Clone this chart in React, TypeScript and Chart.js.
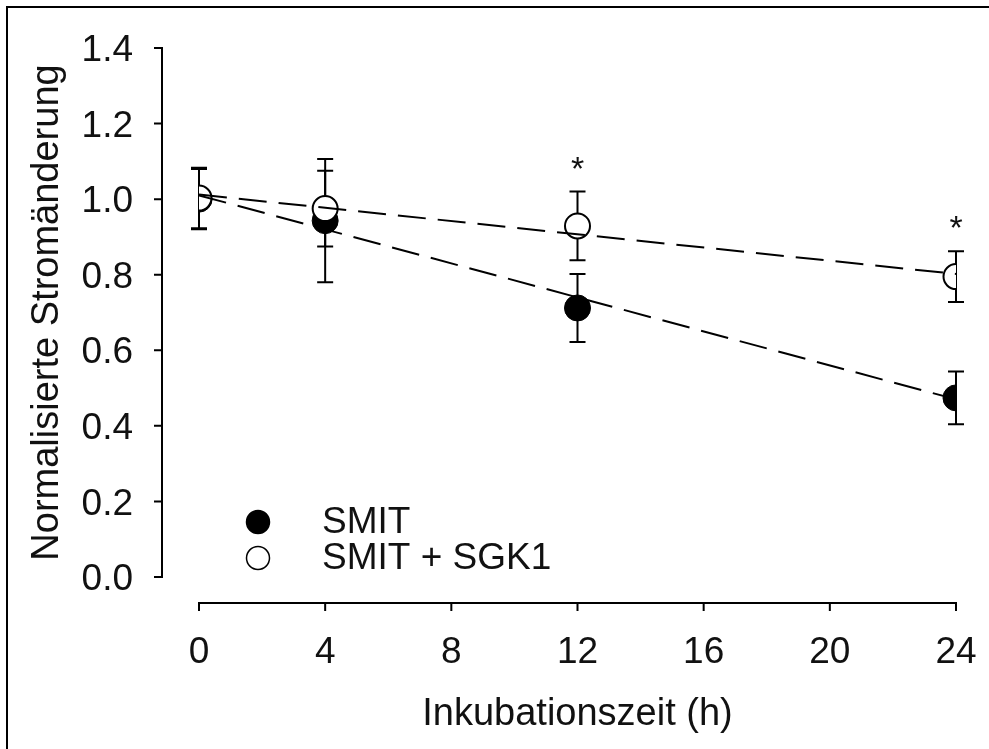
import React, { useEffect, useRef } from "react";
import { Chart, registerables } from "chart.js";

Chart.register(...registerables);

// ---- data ----
const hours = [0, 4, 12, 24];
const smitMean = [1.0, 0.943, 0.712, 0.474];
const smitErr = [0.08, 0.163, 0.09, 0.07];
const sgkMean = [1.003, 0.975, 0.929, 0.795];
const sgkErr = [0.08, 0.1, 0.091, 0.067];
const fitHours = [0, 24];
const smitFit = [1.01, 0.47];
const sgkFit = [1.012, 0.802];
const sigHours = [12, 24];
const seriesLabels = ["SMIT", "SMIT + SGK1"];
const xRange = [0, 24];
const xStep = 4;
const yRange = [0, 1.4];
const yStep = 0.2;
const xTitle = "Inkubationszeit (h)";
const yTitle = "Normalisierte Stromänderung";

const FONT = "'Liberation Sans', Arial, Helvetica, sans-serif";
const TEXT = "#111";

const framePlugin = {
  id: "frame",
  beforeDraw(chart: any) {
    const { ctx, width, height } = chart;
    ctx.save();
    ctx.fillStyle = "#fff";
    ctx.fillRect(0, 0, width, height);
    ctx.strokeStyle = "#000";
    ctx.lineWidth = 2;
    ctx.beginPath();
    ctx.moveTo(7, height);
    ctx.lineTo(7, 7);
    ctx.lineTo(width, 7);
    ctx.stroke();
    ctx.restore();
  },
};

const errorBarPlugin = {
  id: "errorBars",
  beforeDatasetsDraw(chart: any) {
    const { ctx } = chart;
    const x = chart.scales.x;
    const y = chart.scales.y;
    ctx.save();
    ctx.strokeStyle = "#000";
    ctx.lineWidth = 2;
    chart.data.datasets.forEach((ds: any) => {
      if (!ds.errors) return;
      ds.data.forEach((p: any, i: number) => {
        const px = x.getPixelForValue(p.x);
        const yt = y.getPixelForValue(p.y + ds.errors[i]);
        const yb = y.getPixelForValue(p.y - ds.errors[i]);
        ctx.beginPath();
        ctx.moveTo(px, yt);
        ctx.lineTo(px, yb);
        ctx.moveTo(px - 8, yt);
        ctx.lineTo(px + 8, yt);
        ctx.moveTo(px - 8, yb);
        ctx.lineTo(px + 8, yb);
        ctx.stroke();
      });
    });
    ctx.restore();
  },
};

const asteriskPlugin = {
  id: "asterisks",
  afterDatasetsDraw(chart: any) {
    const { ctx } = chart;
    const x = chart.scales.x;
    const y = chart.scales.y;
    ctx.save();
    ctx.fillStyle = TEXT;
    ctx.font = `34px ${FONT}`;
    ctx.textAlign = "center";
    ctx.textBaseline = "alphabetic";
    const m = ctx.measureText("*");
    sigHours.forEach((h) => {
      const i = hours.indexOf(h);
      const top = Math.max(smitMean[i] + smitErr[i], sgkMean[i] + sgkErr[i]);
      const cy = y.getPixelForValue(top) - 29;
      const by = cy + (m.actualBoundingBoxAscent - m.actualBoundingBoxDescent) / 2;
      ctx.fillText("*", x.getPixelForValue(h), by);
    });
    ctx.restore();
  },
};

const axesPlugin = {
  id: "offsetAxes",
  afterDraw(chart: any) {
    const { ctx, chartArea } = chart;
    const x = chart.scales.x;
    const y = chart.scales.y;
    ctx.save();
    ctx.strokeStyle = "#000";
    ctx.lineWidth = 2;
    ctx.beginPath();
    const ax = chartArea.left - 37;
    ctx.moveTo(ax, y.getPixelForValue(y.max) - 1);
    ctx.lineTo(ax, y.getPixelForValue(y.min) + 1);
    y.ticks.forEach((t: any) => {
      const py = y.getPixelForValue(t.value);
      ctx.moveTo(ax, py);
      ctx.lineTo(ax - 8, py);
    });
    const ay = chartArea.bottom + 26;
    ctx.moveTo(x.getPixelForValue(x.min) - 1, ay);
    ctx.lineTo(x.getPixelForValue(x.max) + 1, ay);
    x.ticks.forEach((t: any) => {
      const px = x.getPixelForValue(t.value);
      ctx.moveTo(px, ay);
      ctx.lineTo(px, ay + 8);
    });
    ctx.stroke();
    ctx.restore();
  },
};

const legendPlugin = {
  id: "insideLegend",
  afterDraw(chart: any) {
    const { ctx, chartArea } = chart;
    const mx = chartArea.left + 59;
    const tx = chartArea.left + 123;
    const y0 = chartArea.bottom - 55;
    ctx.save();
    ctx.font = `37px ${FONT}`;
    ctx.fillStyle = TEXT;
    ctx.textAlign = "left";
    ctx.textBaseline = "middle";
    seriesLabels.forEach((label, i) => {
      const ds = chart.data.datasets[i];
      const cy = y0 + i * 36;
      ctx.beginPath();
      ctx.arc(mx, cy, 11.5, 0, Math.PI * 2);
      ctx.fillStyle = ds.pointBackgroundColor;
      ctx.fill();
      ctx.lineWidth = 1.5;
      ctx.strokeStyle = "#000";
      ctx.stroke();
      ctx.fillStyle = TEXT;
      ctx.fillText(label, tx, cy + 1);
    });
    ctx.restore();
  },
};

const clearPadding = (s: any) => {
  s.paddingTop = 0;
  s.paddingBottom = 0;
  s.paddingLeft = 0;
  s.paddingRight = 0;
};

export default function App() {
  const ref = useRef<HTMLCanvasElement | null>(null);

  useEffect(() => {
    if (!ref.current) return;
    const chart = new Chart(ref.current, {
      type: "scatter",
      data: {
        datasets: [
          {
            label: seriesLabels[0],
            data: hours.map((h, i) => ({ x: h, y: smitMean[i] })),
            errors: smitErr,
            showLine: false,
            pointRadius: 13,
            pointBackgroundColor: "#000",
            pointBorderColor: "#000",
            pointBorderWidth: 1,
            order: 4,
          } as any,
          {
            label: seriesLabels[1],
            data: hours.map((h, i) => ({ x: h, y: sgkMean[i] })),
            errors: sgkErr,
            showLine: false,
            pointRadius: 12.5,
            pointBackgroundColor: "#fff",
            pointBorderColor: "#000",
            pointBorderWidth: 2,
            order: 3,
          } as any,
          {
            label: "fit1",
            data: fitHours.map((h, i) => ({ x: h, y: smitFit[i] })),
            showLine: true,
            pointRadius: 0,
            borderColor: "#000",
            borderWidth: 2,
            borderDash: [28, 12],
            order: 2,
          },
          {
            label: "fit2",
            data: fitHours.map((h, i) => ({ x: h, y: sgkFit[i] })),
            showLine: true,
            pointRadius: 0,
            borderColor: "#000",
            borderWidth: 2,
            borderDash: [28, 12],
            order: 1,
          },
        ],
      },
      options: {
        animation: false,
        responsive: false,
        layout: { padding: { left: 10, top: 48, right: 33, bottom: 0 } },
        plugins: {
          legend: { display: false },
          tooltip: { enabled: false },
        },
        scales: {
          x: {
            type: "linear",
            min: xRange[0],
            max: xRange[1],
            grid: { display: false, drawTicks: false },
            border: { display: false },
            ticks: {
              stepSize: xStep,
              padding: 54,
              maxRotation: 0,
              color: TEXT,
              font: { size: 37, family: FONT },
            },
            title: {
              display: true,
              text: xTitle,
              color: TEXT,
              font: { size: 38, family: FONT },
              padding: { top: 0, bottom: 12 },
            },
            afterFit: (s: any) => {
              s.height = 172;
              clearPadding(s);
            },
          },
          y: {
            type: "linear",
            min: yRange[0],
            max: yRange[1],
            grid: { display: false, drawTicks: false },
            border: { display: false },
            ticks: {
              stepSize: yStep,
              padding: 66,
              labelOffset: 3,
              color: TEXT,
              font: { size: 37, family: FONT },
              callback: (v: any) => Number(v).toFixed(1),
            },
            title: {
              display: true,
              text: yTitle,
              color: TEXT,
              font: { size: 38, family: FONT },
              padding: { top: 15, bottom: 0 },
            },
            afterFit: (s: any) => {
              s.width = 189;
              clearPadding(s);
            },
          },
        },
      },
      plugins: [framePlugin, errorBarPlugin, asteriskPlugin, axesPlugin, legendPlugin],
    });
    return () => chart.destroy();
  }, []);

  return (
    <div style={{ position: "absolute", left: 0, top: 0, width: 989, height: 749, background: "#fff" }}>
      <canvas ref={ref} width={989} height={749} style={{ display: "block" }} />
    </div>
  );
}
